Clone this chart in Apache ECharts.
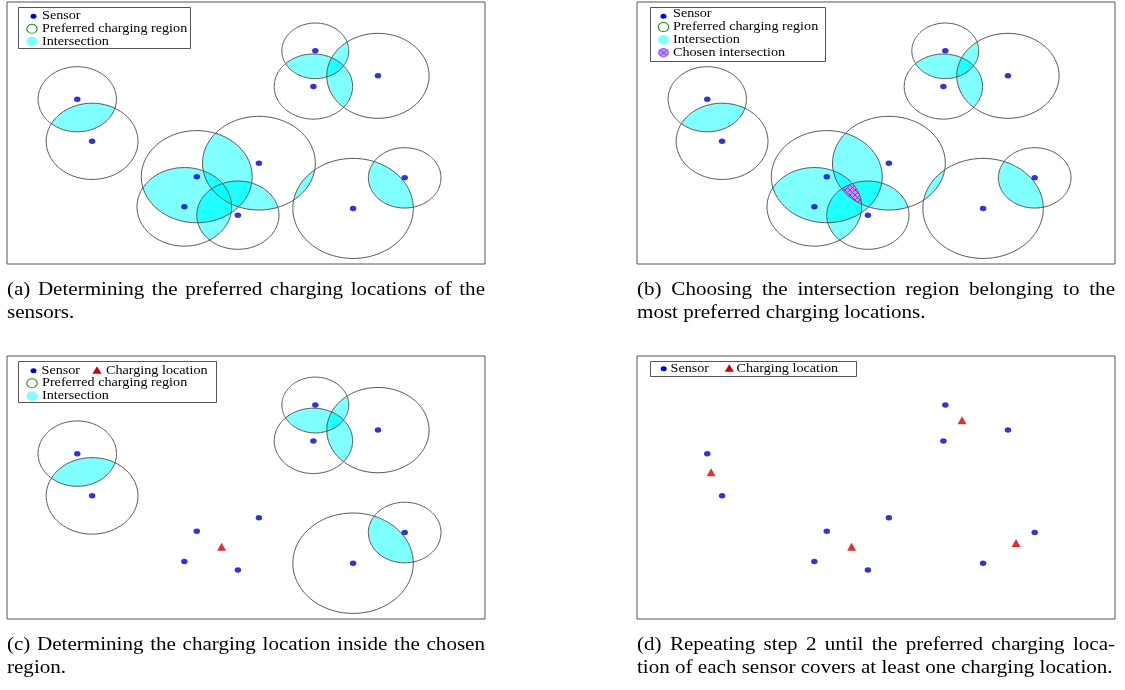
<!DOCTYPE html>
<html>
<head>
<meta charset="utf-8">
<script src="https://cdn.jsdelivr.net/npm/echarts@6/dist/echarts.min.js"></script>
<style>
  html, body { margin: 0; padding: 0; background: #ffffff; }
  #chart { width: 1125px; height: 690px; }
</style>
</head>
<body>
<div id="chart"></div>
<script>
// Sensor positions (field units) and the radius of each sensor's preferred charging region
const sensorX = [14.7, 17.8, 64.5, 64.1, 77.6, 52.7, 39.7, 37.1, 48.3, 83.2, 72.4];
const sensorY = [41.5, 30.9, 53.7, 44.7, 47.4, 25.4, 22.0, 14.4, 12.3, 21.7, 14.0];
const regionRadius = [8.2, 9.6, 7.0, 8.2, 10.7, 11.8, 11.6, 9.9, 8.6, 7.6, 12.6];

// Sensors whose regions meet in the chosen intersection (served by the first charging location)
const chosenGroup = [5, 6, 7, 8];

// Charging locations, in the order they are placed
const chargeX = [44.9, 68.0, 15.5, 79.3];
const chargeY = [18.1, 49.9, 36.8, 19.1];

// Field extent
const fieldX = [0, 100];
const fieldY = [0, 66];

const captionLines = [
  ['(a) Determining the preferred charging locations of the', 'sensors.'],
  ['(b) Choosing the intersection region belonging to the', 'most preferred charging locations.'],
  ['(c) Determining the charging location inside the chosen', 'region.'],
  ['(d) Repeating step 2 until the preferred charging loca-', 'tion of each sensor covers at least one charging location.']
];

const allSensors = sensorX.map((_, i) => i);
const openSensors = allSensors.filter(i => chosenGroup.indexOf(i) < 0);

// ---------- geometry helpers (field units) ----------
function arcPoints(cx, cy, r, a0, a1, n) {
  const pts = [];
  for (let k = 0; k <= n; k++) {
    const t = a0 + (a1 - a0) * k / n;
    pts.push([cx + r * Math.cos(t), cy + r * Math.sin(t)]);
  }
  return pts;
}

function lensPoints(i, j) {
  const x1 = sensorX[i], y1 = sensorY[i], r1 = regionRadius[i];
  const x2 = sensorX[j], y2 = sensorY[j], r2 = regionRadius[j];
  const d = Math.hypot(x2 - x1, y2 - y1);
  if (d >= r1 + r2 || d <= Math.abs(r1 - r2)) return null;
  const a = (r1 * r1 - r2 * r2 + d * d) / (2 * d);
  const th = Math.atan2(y2 - y1, x2 - x1);
  const al1 = Math.acos(a / r1);
  const al2 = Math.acos((d - a) / r2);
  return arcPoints(x1, y1, r1, th - al1, th + al1, 60)
    .concat(arcPoints(x2, y2, r2, th + Math.PI - al2, th + Math.PI + al2, 60));
}

function commonRegion(group) {
  const pts = [];
  group.forEach(i => {
    const n = 1440;
    for (let k = 0; k < n; k++) {
      const t = 2 * Math.PI * k / n;
      const p = [sensorX[i] + regionRadius[i] * Math.cos(t), sensorY[i] + regionRadius[i] * Math.sin(t)];
      const inside = group.every(j => j === i ||
        Math.hypot(p[0] - sensorX[j], p[1] - sensorY[j]) <= regionRadius[j] + 1e-9);
      if (inside) pts.push(p);
    }
  });
  const cx = pts.reduce((s, p) => s + p[0], 0) / pts.length;
  const cy = pts.reduce((s, p) => s + p[1], 0) / pts.length;
  pts.sort((p, q) => Math.atan2(p[1] - cy, p[0] - cx) - Math.atan2(q[1] - cy, q[0] - cx));
  return pts;
}

// cross-hatch tile for the chosen intersection
function hatchTile() {
  const c = document.createElement('canvas');
  c.width = 5; c.height = 5;
  const g = c.getContext('2d');
  g.fillStyle = '#dc8cf6';
  g.fillRect(0, 0, 5, 5);
  g.strokeStyle = '#5050ff';
  g.lineWidth = 1;
  g.beginPath();
  g.moveTo(0, 0); g.lineTo(5, 5);
  g.moveTo(5, 0); g.lineTo(0, 5);
  g.stroke();
  return c;
}
const hatch = { image: hatchTile(), repeat: 'repeat' };

const CYAN = 'rgba(0,255,255,0.5)';
const RING = '#555555';
const BLUE = '#0000cc';
const RED = '#d10000';

// ---------- layout ----------
const panels = [
  { left: 7, top: 2, h: 262 }, { left: 637, top: 2, h: 262 },
  { left: 7, top: 356, h: 263 }, { left: 637, top: 356, h: 263 }
];
const PW = 478;

// ---------- series builders ----------
function lensSeries(g, active) {
  return {
    type: 'custom', xAxisIndex: g, yAxisIndex: g, z: 1, silent: true, animation: false,
    data: active.map(i => [sensorX[i], sensorY[i], i]),
    renderItem(params, api) {
      const i = api.value(2);
      const children = [];
      active.forEach(j => {
        if (j <= i) return;
        const p = lensPoints(i, j);
        if (p) children.push({
          type: 'polygon',
          shape: { points: p.map(q => api.coord(q)) },
          style: { fill: CYAN, stroke: null }
        });
      });
      return { type: 'group', children };
    }
  };
}

function chosenSeries(g) {
  const region = commonRegion(chosenGroup);
  return {
    type: 'custom', xAxisIndex: g, yAxisIndex: g, z: 2, silent: true, animation: false,
    data: [[sensorX[chosenGroup[0]], sensorY[chosenGroup[0]]]],
    renderItem(params, api) {
      return {
        type: 'polygon',
        shape: { points: region.map(q => api.coord(q)) },
        style: { fill: hatch, stroke: null }
      };
    }
  };
}

function ringSeries(g, active) {
  return {
    type: 'custom', xAxisIndex: g, yAxisIndex: g, z: 3, silent: true, animation: false,
    data: active.map(i => [sensorX[i], sensorY[i], regionRadius[i]]),
    renderItem(params, api) {
      const pts = arcPoints(api.value(0), api.value(1), api.value(2), 0, 2 * Math.PI, 160)
        .map(q => api.coord(q));
      return {
        type: 'polygon',
        shape: { points: pts },
        style: { fill: null, stroke: RING, lineWidth: 1 }
      };
    }
  };
}

function sensorSeries(g) {
  return {
    type: 'scatter', name: 'Sensor', xAxisIndex: g, yAxisIndex: g, z: 5, silent: true, animation: false,
    symbol: 'circle', symbolSize: [6.5, 5.5],
    itemStyle: { color: BLUE },
    data: sensorX.map((x, i) => [x, sensorY[i]])
  };
}

function chargeSeries(g, count) {
  return {
    type: 'scatter', name: 'Charging location', xAxisIndex: g, yAxisIndex: g, z: 5, silent: true, animation: false,
    symbol: 'triangle', symbolSize: [9, 8],
    itemStyle: { color: RED },
    data: chargeX.slice(0, count).map((x, i) => [x, chargeY[i]])
  };
}

const series = [
  lensSeries(0, allSensors), ringSeries(0, allSensors), sensorSeries(0),
  lensSeries(1, allSensors), chosenSeries(1), ringSeries(1, allSensors), sensorSeries(1),
  lensSeries(2, openSensors), ringSeries(2, openSensors), sensorSeries(2), chargeSeries(2, 1),
  sensorSeries(3), chargeSeries(3, chargeX.length)
];

// ---------- legends & captions (graphic text) ----------
const LEG_FONT = 12, LEG_SX = 1.18;
const CAP_FONT = 19.5, CAP_SX = 1.08;
const SERIF = '"Liberation Serif", "Times New Roman", serif';
const measureCtx = document.createElement('canvas').getContext('2d');

function textEl(x, y, s, size, sx) {
  return {
    type: 'text', x, y, scaleX: sx, z: 100,
    style: {
      text: s, font: size + 'px ' + SERIF, fill: '#000',
      align: 'left', verticalAlign: 'middle', textAlign: 'left', textVerticalAlign: 'middle'
    }
  };
}

function icon(kind, x, y) {
  if (kind === 'sensor') return { type: 'circle', x, y, scaleX: 1.2, z: 100, shape: { cx: 0, cy: 0, r: 2.5 }, style: { fill: BLUE } };
  if (kind === 'region') return { type: 'circle', x, y, scaleX: 1.15, z: 100, shape: { cx: 0, cy: 0, r: 4.5 }, style: { fill: '#fff', stroke: '#1f9a1f', lineWidth: 1, strokeNoScale: true } };
  if (kind === 'intersection') return { type: 'circle', x, y, scaleX: 1.15, z: 100, shape: { cx: 0, cy: 0, r: 4.8 }, style: { fill: '#80ffff' } };
  if (kind === 'chosen') return { type: 'circle', x, y, scaleX: 1.15, z: 100, shape: { cx: 0, cy: 0, r: 4.8 }, style: { fill: hatch } };
  return { type: 'polygon', z: 100, shape: { points: [[x, y - 4], [x + 4.6, y + 3.6], [x - 4.6, y + 3.6]] }, style: { fill: RED } };
}

function legend(box, rows) {
  const els = [{
    type: 'rect', z: 99,
    shape: { x: box[0], y: box[1], width: box[2], height: box[3] },
    style: { fill: '#fff', stroke: '#555555', lineWidth: 1 }
  }];
  rows.forEach(r => r.forEach(it => {
    els.push(icon(it.icon, it.ix, it.iy));
    els.push(textEl(it.tx, it.ty, it.label, LEG_FONT, LEG_SX));
  }));
  return els;
}

function captionEls(p, lines, base1, base2) {
  const els = [];
  const font = CAP_FONT + 'px ' + SERIF;
  measureCtx.font = font;
  const off = 0.3375 * CAP_FONT;
  // first line: justified across the panel width
  const words = lines[0].split(' ');
  const widths = words.map(w => measureCtx.measureText(w).width * CAP_SX);
  const total = widths.reduce((s, w) => s + w, 0);
  const gap = (PW - total) / (words.length - 1);
  let x = p.left;
  words.forEach((w, k) => {
    els.push(textEl(x, base1 - off, w, CAP_FONT, CAP_SX));
    x += widths[k] + gap;
  });
  // last line: natural spacing
  els.push(textEl(p.left, base2 - off, lines[1], CAP_FONT, CAP_SX));
  return els;
}

let graphics = [];
graphics = graphics.concat(legend([18.5, 7.5, 172, 41], [
  [{ icon: 'sensor', ix: 33.5, iy: 16.3, tx: 42, ty: 16, label: 'Sensor' }],
  [{ icon: 'region', ix: 32, iy: 28.8, tx: 42, ty: 28.8, label: 'Preferred charging region' }],
  [{ icon: 'intersection', ix: 32, iy: 41.5, tx: 42, ty: 41.5, label: 'Intersection' }]
]));
graphics = graphics.concat(legend([650.5, 7.5, 175, 54], [
  [{ icon: 'sensor', ix: 663.5, iy: 16.3, tx: 673, ty: 14.3, label: 'Sensor' }],
  [{ icon: 'region', ix: 663.5, iy: 27.1, tx: 673, ty: 27.1, label: 'Preferred charging region' }],
  [{ icon: 'intersection', ix: 663.5, iy: 39.9, tx: 673, ty: 39.9, label: 'Intersection' }],
  [{ icon: 'chosen', ix: 663.5, iy: 52.7, tx: 673, ty: 52.7, label: 'Chosen intersection' }]
]));
graphics = graphics.concat(legend([18.5, 361.5, 198, 41], [
  [{ icon: 'sensor', ix: 33.5, iy: 370.7, tx: 41.5, ty: 370.5, label: 'Sensor' },
   { icon: 'charge', ix: 97, iy: 370.2, tx: 106, ty: 370.5, label: 'Charging location' }],
  [{ icon: 'region', ix: 32, iy: 383.2, tx: 42, ty: 383.2, label: 'Preferred charging region' }],
  [{ icon: 'intersection', ix: 32, iy: 396.2, tx: 42, ty: 396.2, label: 'Intersection' }]
]));
graphics = graphics.concat(legend([650.5, 361.5, 206, 15], [
  [{ icon: 'sensor', ix: 663.7, iy: 368.7, tx: 670.5, ty: 368.5, label: 'Sensor' },
   { icon: 'charge', ix: 729.3, iy: 368.2, tx: 736.5, ty: 368.5, label: 'Charging location' }]
]));
graphics = graphics.concat(captionEls(panels[0], captionLines[0], 296.5, 319));
graphics = graphics.concat(captionEls(panels[1], captionLines[1], 296.5, 319));
graphics = graphics.concat(captionEls(panels[2], captionLines[2], 651.5, 674));
graphics = graphics.concat(captionEls(panels[3], captionLines[3], 651.5, 674));

const chart = echarts.init(document.getElementById('chart'), null, { renderer: 'canvas' });
chart.setOption({
  backgroundColor: '#ffffff',
  animation: false,
  grid: panels.map(p => ({
    left: p.left, top: p.top, width: PW, height: p.h,
    show: true, borderColor: '#555555', borderWidth: 1, backgroundColor: '#ffffff'
  })),
  xAxis: panels.map((p, g) => ({ type: 'value', gridIndex: g, min: fieldX[0], max: fieldX[1], show: false })),
  yAxis: panels.map((p, g) => ({ type: 'value', gridIndex: g, min: fieldY[0], max: fieldY[1], show: false })),
  series,
  graphic: { elements: graphics }
});
</script>
</body>
</html>
